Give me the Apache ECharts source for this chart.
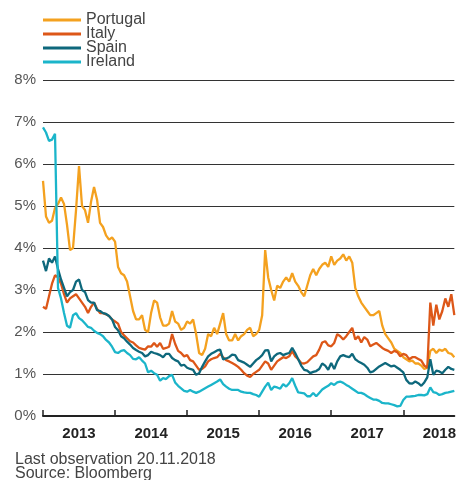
<!DOCTYPE html>
<html>
<head>
<meta charset="utf-8">
<script src="https://cdn.jsdelivr.net/npm/echarts@6/dist/echarts.min.js"></script>
<style>
  html, body { margin: 0; padding: 0; background: #fff; }
  #chart { width: 459px; height: 480px; }
</style>
</head>
<body>
<div id="chart"></div>
<script>
// months covered, two observations each (1st and 16th)
const months = [
  '2013-01','2013-02','2013-03','2013-04','2013-05','2013-06','2013-07','2013-08','2013-09','2013-10','2013-11','2013-12',
  '2014-01','2014-02','2014-03','2014-04','2014-05','2014-06','2014-07','2014-08','2014-09','2014-10','2014-11','2014-12',
  '2015-01','2015-02','2015-03','2015-04','2015-05','2015-06','2015-07','2015-08','2015-09','2015-10','2015-11','2015-12',
  '2016-01','2016-02','2016-03','2016-04','2016-05','2016-06','2016-07','2016-08','2016-09','2016-10','2016-11','2016-12',
  '2017-01','2017-02','2017-03','2017-04','2017-05','2017-06','2017-07','2017-08','2017-09','2017-10','2017-11','2017-12',
  '2018-01','2018-02','2018-03','2018-04','2018-05','2018-06','2018-07','2018-08','2018-09'
];

const yearTicks = [2013, 2014, 2015, 2016, 2017, 2018];
const yearLabels = ['2013', '2014', '2015', '2016', '2017', '2018'];

const portugal = [
  5.6, 4.75, 4.6, 4.65, 4.95, 5.05, 5.2, 5.05, 4.55, 3.95, 4.0, 4.9, 5.95, 5.0, 4.9, 4.6, 5.1, 5.45, 5.15, 4.6, 4.5, 4.3, 4.2, 4.25,
  4.15, 3.55, 3.4, 3.35, 3.2, 2.85, 2.5, 2.3, 2.3, 2.4, 2.05, 2.0, 2.45, 2.75, 2.7, 2.35, 2.15, 2.15, 2.2, 2.5, 2.25, 2.2, 2.05, 2.1,
  2.25, 2.2, 2.3, 1.95, 1.5, 1.45, 1.6, 1.95, 1.9, 2.1, 1.95, 2.2, 2.45, 1.95, 1.8, 1.8, 1.95, 1.8, 1.9, 1.95, 2.05, 2.1, 1.9, 1.95,
  2.05, 2.4, 3.95, 3.3, 3.0, 2.75, 3.1, 3.05, 3.2, 3.3, 3.2, 3.4, 3.2, 3.1, 2.95, 2.85, 3.1, 3.35, 3.5, 3.35, 3.5, 3.6, 3.65, 3.55,
  3.8, 3.6, 3.7, 3.75, 3.85, 3.7, 3.8, 3.65, 3.05, 2.85, 2.7, 2.6, 2.5, 2.4, 2.4, 2.45, 2.5, 2.15, 1.95, 1.85, 1.75, 1.6, 1.55, 1.5,
  1.4, 1.35, 1.3, 1.32, 1.25, 1.25, 1.2, 1.12, 1.15, 1.55, 1.6, 1.5, 1.58, 1.55, 1.6, 1.5, 1.48, 1.4
];
const italy = [
  2.6, 2.55, 2.85, 3.15, 3.35, 3.3, 3.15, 2.9, 2.7, 2.8, 2.85, 2.9, 2.8, 2.7, 2.6, 2.45, 2.6, 2.7, 2.55, 2.45, 2.45, 2.42, 2.38, 2.3,
  2.25, 2.2, 2.0, 1.92, 1.85, 1.78, 1.75, 1.68, 1.62, 1.6, 1.58, 1.66, 1.65, 1.74, 1.65, 1.74, 1.6, 1.62, 1.65, 1.95, 1.72, 1.55, 1.5, 1.42,
  1.45, 1.33, 1.3, 1.2, 1.1, 1.12, 1.18, 1.3, 1.35, 1.38, 1.4, 1.48, 1.4, 1.33, 1.3, 1.26, 1.22, 1.17, 1.1, 1.02, 0.96, 0.93, 1.0, 1.05,
  1.1, 1.2, 1.3, 1.25, 1.1, 1.2, 1.3, 1.35, 1.4, 1.38, 1.42, 1.55, 1.42, 1.35, 1.26, 1.25, 1.28, 1.35, 1.42, 1.45, 1.58, 1.75, 1.78, 1.68,
  1.66, 1.74, 1.95, 1.9, 1.82, 1.9, 2.0, 2.1, 1.82, 1.9, 1.75, 1.88, 1.82, 1.66, 1.7, 1.74, 1.68, 1.62, 1.58, 1.55, 1.5, 1.55, 1.52, 1.42,
  1.48, 1.45, 1.35, 1.4, 1.4, 1.36, 1.32, 1.2, 1.15, 2.7, 2.15, 2.65, 2.3, 2.5, 2.8, 2.6, 2.9, 2.4
];
const spain = [
  3.7, 3.45, 3.75, 3.65, 3.8, 3.5, 3.25, 3.05, 2.85, 2.95, 3.0, 3.2, 3.25, 3.0, 2.95, 2.76, 2.7, 2.7, 2.52, 2.5, 2.45, 2.43, 2.38, 2.3,
  2.12, 2.04, 1.9, 1.85, 1.77, 1.7, 1.62, 1.57, 1.53, 1.5, 1.42, 1.45, 1.53, 1.5, 1.48, 1.45, 1.4, 1.48, 1.48, 1.38, 1.33, 1.3, 1.2, 1.22,
  1.15, 1.12, 1.1, 0.98, 1.02, 1.17, 1.3, 1.42, 1.48, 1.52, 1.56, 1.58, 1.35, 1.37, 1.4, 1.46, 1.45, 1.33, 1.3, 1.27, 1.22, 1.17, 1.25, 1.33,
  1.38, 1.45, 1.56, 1.57, 1.3, 1.42, 1.48, 1.5, 1.45, 1.48, 1.5, 1.62, 1.5, 1.35, 1.2, 1.1, 1.08, 1.02, 1.05, 1.07, 1.12, 1.25, 1.2, 1.1,
  1.26, 1.12, 1.3, 1.42, 1.45, 1.42, 1.4, 1.48, 1.35, 1.3, 1.26, 1.22, 1.15, 1.04, 1.06, 1.12, 1.18, 1.22, 1.26, 1.22, 1.18, 1.2, 1.15, 1.1,
  1.04, 0.86, 0.78, 0.77, 0.82, 0.78, 0.72, 0.8, 0.92, 1.35, 0.98, 1.08, 1.06, 1.02, 1.1, 1.17, 1.12, 1.1
];
const ireland = [
  6.87, 6.75, 6.55, 6.58, 6.72, 3.05, 2.8, 2.45, 2.15, 2.1, 2.4, 2.45, 2.33, 2.28, 2.2, 2.12, 2.1, 2.03, 1.98, 1.95, 1.9, 1.81, 1.75, 1.65,
  1.52, 1.5, 1.55, 1.57, 1.5, 1.45, 1.36, 1.35, 1.4, 1.32, 1.25, 1.04, 1.08, 1.02, 0.98, 0.84, 0.9, 0.88, 0.95, 0.98, 0.8, 0.72, 0.66, 0.6,
  0.58, 0.62, 0.58, 0.55, 0.58, 0.62, 0.66, 0.7, 0.74, 0.78, 0.82, 0.87, 0.76, 0.7, 0.65, 0.62, 0.62, 0.62, 0.58, 0.56, 0.55, 0.55, 0.52, 0.5,
  0.46, 0.58, 0.7, 0.79, 0.62, 0.7, 0.68, 0.65, 0.76, 0.7, 0.78, 0.9, 0.72, 0.56, 0.55, 0.54, 0.47, 0.47, 0.55, 0.47, 0.55, 0.63, 0.68, 0.72,
  0.78, 0.74, 0.8, 0.82, 0.79, 0.74, 0.7, 0.65, 0.6, 0.55, 0.55, 0.52, 0.47, 0.43, 0.39, 0.39, 0.36, 0.31, 0.3, 0.3, 0.28, 0.26, 0.23, 0.24,
  0.38, 0.46, 0.46, 0.47, 0.48, 0.5, 0.5, 0.49, 0.52, 0.68, 0.57, 0.55, 0.5, 0.52, 0.55, 0.56, 0.58, 0.6
];

// decimal year for each observation
const times = [];
months.forEach(m => {
  const y = +m.slice(0, 4), mo = +m.slice(5, 7);
  times.push(y + (mo - 1) / 12);
  times.push(y + (mo - 1) / 12 + 1 / 24);
});
const pairs = vals => vals.map((v, i) => [times[i], v]);

const makeSeries = (name, vals, color) => ({
  name: name,
  type: 'line',
  data: pairs(vals),
  symbol: 'none',
  lineStyle: { width: 2.3, color: color },
  itemStyle: { color: color },
  silent: true
});

const option = {
  animation: false,
  textStyle: { fontFamily: 'Liberation Sans, Arial, sans-serif' },
  legend: {
    orient: 'vertical',
    left: 38,
    top: 7,
    itemGap: -2,
    itemWidth: 38,
    itemHeight: 3,
    icon: 'rect',
    textStyle: { fontSize: 16, color: '#444' },
    data: ['Portugal', 'Italy', 'Spain', 'Ireland']
  },
  grid: { left: 43, right: 0, top: 80, bottom: 64, containLabel: false },
  xAxis: {
    type: 'value',
    min: 2013,
    max: times[times.length - 1],
    axisLine: { show: true, lineStyle: { color: '#222', width: 2 } },
    axisTick: {
      show: true, inside: true, length: 6,
      customValues: yearTicks,
      lineStyle: { color: '#222', width: 1.5 }
    },
    axisLabel: {
      customValues: yearTicks.map(y => y + 0.5),
      formatter: v => yearLabels[Math.floor(v) - 2013],
      fontSize: 15, fontWeight: 'bold', color: '#222', margin: 10
    },
    splitLine: { show: false }
  },
  yAxis: {
    type: 'value',
    min: 0,
    max: 8,
    interval: 1,
    axisLine: { show: false },
    axisTick: { show: false },
    axisLabel: { formatter: '{value}%', fontSize: 15, color: '#555', margin: 7 },
    splitLine: { lineStyle: { color: '#333', width: 1 } }
  },
  series: [
    makeSeries('Portugal', portugal, '#F4A11F'),
    makeSeries('Italy', italy, '#DD5718'),
    makeSeries('Spain', spain, '#0E687C'),
    makeSeries('Ireland', ireland, '#1BB5CA')
  ],
  graphic: [
    { type: 'text', left: 15, top: 452, style: { text: 'Last observation 20.11.2018', font: '16px Liberation Sans, Arial, sans-serif', fill: '#444' } },
    { type: 'text', left: 15, top: 466, style: { text: 'Source: Bloomberg', font: '16px Liberation Sans, Arial, sans-serif', fill: '#444' } }
  ]
};

const chart = echarts.init(document.getElementById('chart'));
chart.setOption(option);
</script>
</body>
</html>
